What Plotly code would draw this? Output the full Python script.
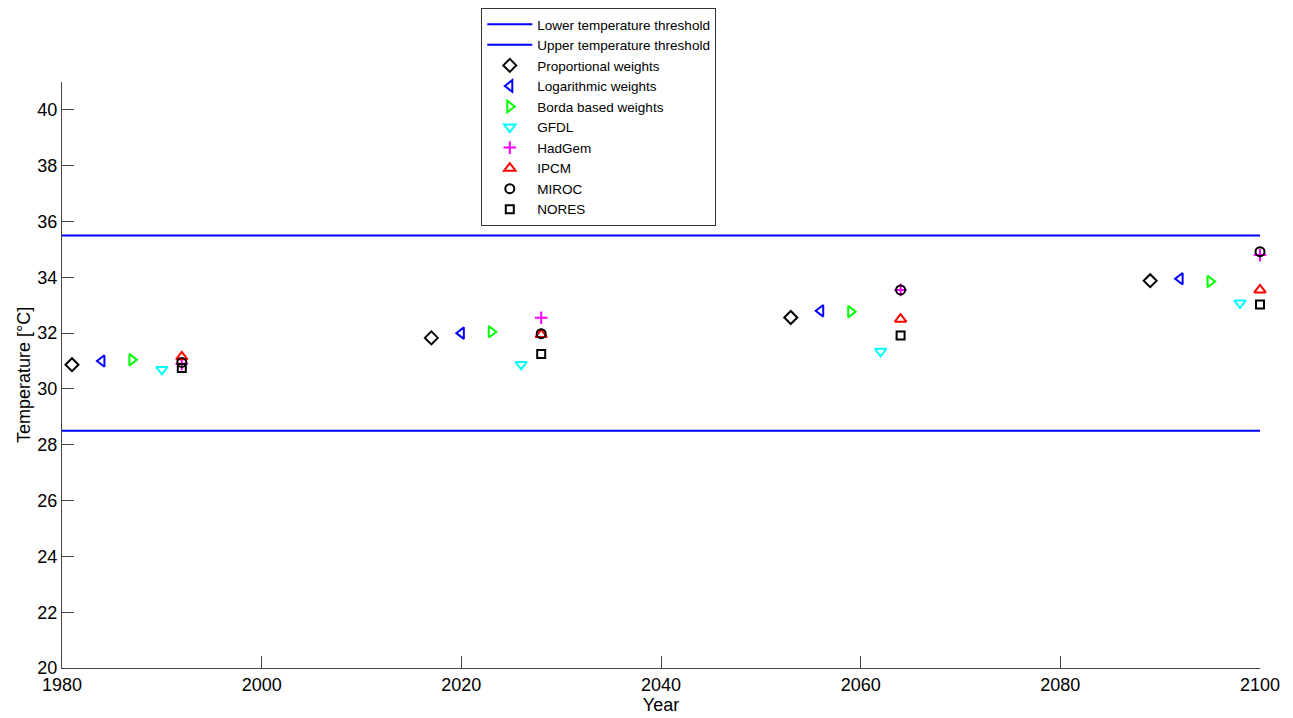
import plotly.graph_objects as go

# Data
years_prop = [1981, 2017, 2053, 2089]
prop = [30.87, 31.83, 32.56, 33.88]
years_log = [1984, 2020, 2056, 2092]
logw = [31.0, 32.0, 32.8, 33.95]
years_borda = [1987, 2023, 2059, 2095]
borda = [31.05, 32.05, 32.77, 33.85]
years_gfdl = [1990, 2026, 2062, 2098]
gfdl = [30.7, 30.88, 31.35, 33.08]
years_models = [1992, 2028, 2064, 2100]
hadgem = [30.9, 32.55, 33.55, 34.8]
ipcm = [31.15, 31.95, 32.5, 33.55]
miroc = [30.95, 31.98, 33.55, 34.92]
nores = [30.75, 31.25, 31.92, 33.03]
threshold_years = [1980, 2100]
lower_thr = [28.5, 28.5]
upper_thr = [35.5, 35.5]
x_ticks = [1980, 2000, 2020, 2040, 2060, 2080, 2100]
y_ticks = [20, 22, 24, 26, 28, 30, 32, 34, 36, 38, 40]

fig = go.Figure()
fig.add_trace(go.Scatter(x=threshold_years, y=lower_thr, mode="lines",
                         line=dict(color="#0000ff", width=2), name="Lower temperature threshold"))
fig.add_trace(go.Scatter(x=threshold_years, y=upper_thr, mode="lines",
                         line=dict(color="#0000ff", width=2), name="Upper temperature threshold"))

def mk(x, y, name, symbol, color, size=10):
    fig.add_trace(go.Scatter(x=x, y=y, mode="markers", name=name, cliponaxis=False,
                             marker=dict(symbol=symbol, size=size, color=color,
                                         line=dict(color=color, width=2))))

mk(years_prop, prop, "Proportional weights", "diamond-open", "#000000")
mk(years_log, logw, "Logarithmic weights", "triangle-left-open", "#0000ff")
mk(years_borda, borda, "Borda based weights", "triangle-right-open", "#00ff00")
mk(years_gfdl, gfdl, "GFDL", "triangle-down-open", "#00ffff")
mk(years_models, hadgem, "HadGem", "cross-thin-open", "#ff00ff", 9)
mk(years_models, ipcm, "IPCM", "triangle-up-open", "#ff0000")
mk(years_models, miroc, "MIROC", "circle-open", "#000000", 9)
mk(years_models, nores, "NORES", "square-open", "#000000", 8)

axis_font = dict(family="Liberation Sans, Arial, sans-serif", size=18, color="#000000")
fig.update_layout(
    width=1285, height=710,
    paper_bgcolor="white", plot_bgcolor="white",
    margin=dict(l=54, r=33, t=74, b=50, autoexpand=False),
    font=axis_font,
    showlegend=True,
    legend=dict(x=0.35, y=1.0, xanchor="left", yanchor="top", yref="container",
                bordercolor="#333333", borderwidth=1, bgcolor="white",
                font=dict(family="Liberation Sans, Arial, sans-serif", size=13.5, color="#000000"),
                itemwidth=45, tracegroupgap=0),
    xaxis=dict(range=[1980, 2100], tickvals=x_ticks, ticks="inside", ticklen=12,
               tickcolor="#444444", showline=True, linecolor="#444444", linewidth=1,
               showgrid=False, zeroline=False, tickfont=axis_font, automargin=False,
               title=dict(text="Year", font=axis_font, standoff=0)),
    yaxis=dict(range=[20, 41], tickvals=y_ticks, ticks="inside", ticklen=12,
               tickcolor="#444444", showline=True, linecolor="#444444", linewidth=1,
               showgrid=False, zeroline=False, tickfont=axis_font, automargin=False,
               title=dict(text="Temperature [°C]", font=axis_font, standoff=2)),
)

fig.write_html("out.html")
